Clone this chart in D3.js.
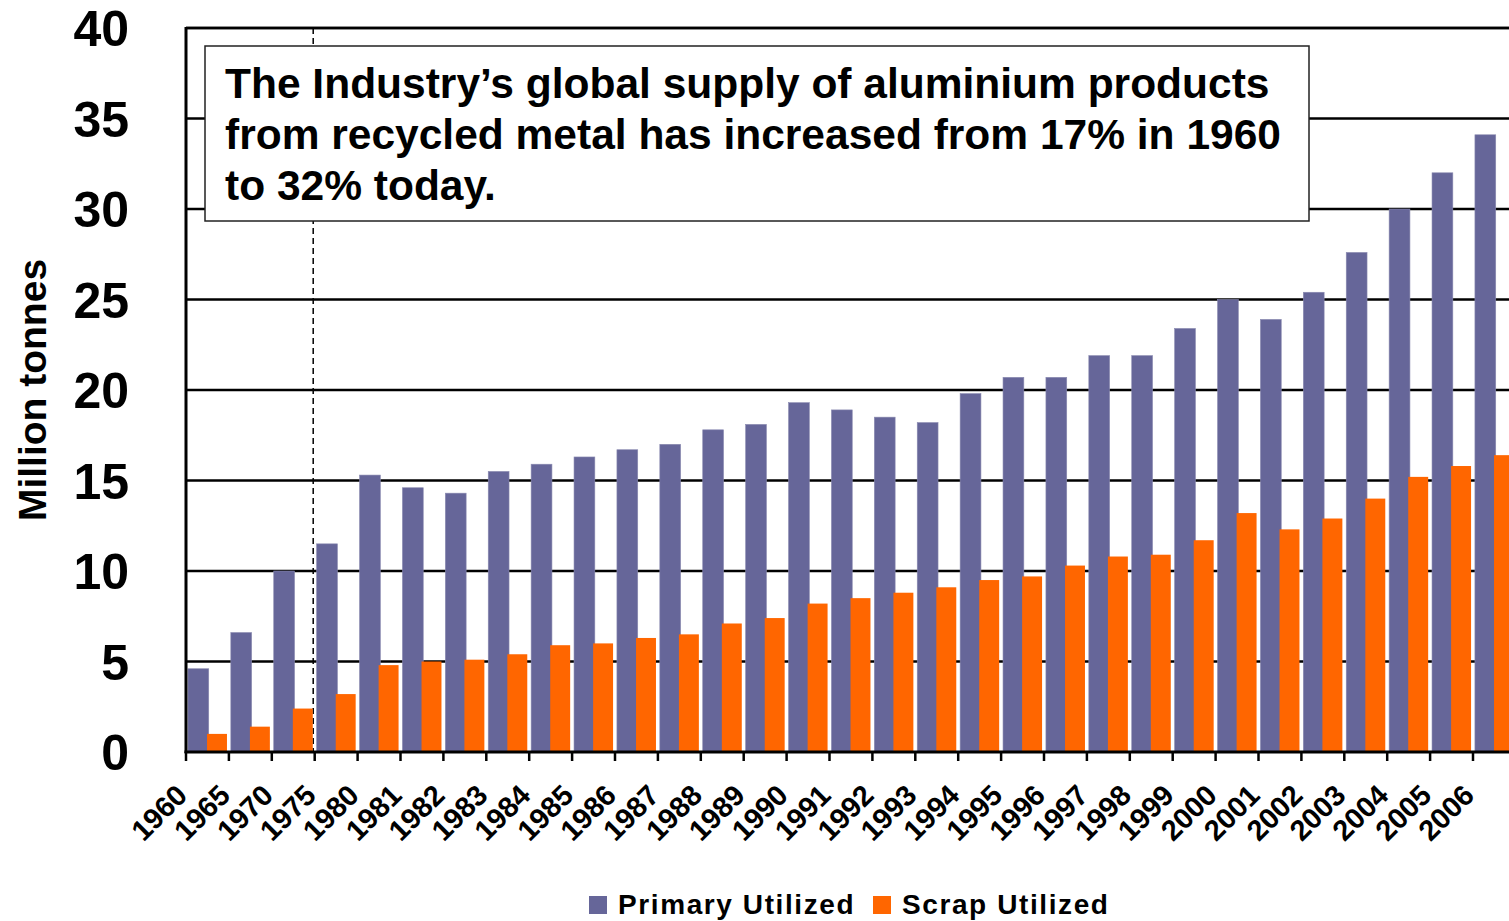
<!DOCTYPE html>
<html>
<head>
<meta charset="utf-8">
<script src="https://cdn.jsdelivr.net/npm/d3@7"></script>
<style>
  html, body { margin: 0; padding: 0; background: #fff; overflow: hidden; }
  svg { display: block; font-family: "Liberation Sans", Arial, sans-serif; }
</style>
</head>
<body>
<svg id="chart" width="1509" height="921"></svg>
<script>
const categories = ["1960","1965","1970","1975","1980","1981","1982","1983","1984","1985","1986","1987","1988","1989","1990","1991","1992","1993","1994","1995","1996","1997","1998","1999","2000","2001","2002","2003","2004","2005","2006"];
const primaryUtilized = [4.6,6.6,10.0,11.5,15.3,14.6,14.3,15.5,15.9,16.3,16.7,17.0,17.8,18.1,19.3,18.9,18.5,18.2,19.8,20.7,20.7,21.9,21.9,23.4,25.0,23.9,25.4,27.6,30.0,32.0,34.1];
const scrapUtilized = [1.0,1.4,2.4,3.2,4.8,5.0,5.1,5.4,5.9,6.0,6.3,6.5,7.1,7.4,8.2,8.5,8.8,9.1,9.5,9.7,10.3,10.8,10.9,11.7,13.2,12.3,12.9,14.0,15.2,15.8,16.4];
const yTicks = [0,5,10,15,20,25,30,35,40];
const seriesNames = ["Primary Utilized","Scrap Utilized"];
const seriesColors = ["#666699","#FF6600"];
const annotationLines = [
  "The Industry\u2019s global supply of aluminium products",
  "from recycled metal has increased from 17% in 1960",
  "to 32% today."
];
const yTitle = "Million tonnes";

(function () {
const svg = d3.select("#chart");
const plotLeft = 186, plotTop = 28, plotBottom = 752;
const bandW = 42.9;
const x = d3.scaleBand().domain(categories).range([plotLeft, plotLeft + bandW * categories.length]).padding(0);
const y = d3.scaleLinear().domain([0, 40]).range([plotBottom, plotTop]);
const w = x.bandwidth();

// gridlines
svg.append("g").selectAll("line").data(yTicks.filter(d => d > 0)).join("line")
  .attr("x1", plotLeft).attr("x2", 1509)
  .attr("y1", d => y(d)).attr("y2", d => y(d))
  .attr("stroke", "#000").attr("stroke-width", 2.5);

// dashed marker line before 1975
svg.append("line")
  .attr("x1", x("1975") - 1.5).attr("x2", x("1975") - 1.5)
  .attr("y1", plotTop).attr("y2", plotBottom)
  .attr("stroke", "#000").attr("stroke-width", 1.5)
  .attr("stroke-dasharray", "6,4");

// annotation box (covers gridlines)
const box = svg.append("g");
box.append("rect").attr("x", 205).attr("y", 46).attr("width", 1104).attr("height", 175)
  .attr("fill", "#fff").attr("stroke", "#222").attr("stroke-width", 1.5);
box.selectAll("text").data(annotationLines).join("text")
  .attr("x", 225).attr("y", (d, i) => 98 + i * 51)
  .attr("font-size", 42.5).attr("font-weight", "bold").attr("fill", "#000")
  .text(d => d);

// bars
const data = categories.map((c, i) => ({c, p: primaryUtilized[i], s: scrapUtilized[i]}));
svg.append("g").selectAll("rect").data(data).join("rect")
  .attr("x", d => x(d.c) + w * 0.045).attr("width", w * 0.485)
  .attr("y", d => y(d.p)).attr("height", d => y(0) - y(d.p))
  .attr("fill", seriesColors[0]).attr("stroke", "#8a8ab0").attr("stroke-width", 0.6);
svg.append("g").selectAll("rect").data(data).join("rect")
  .attr("x", d => x(d.c) + w * 0.49).attr("width", w * 0.465)
  .attr("y", d => y(d.s)).attr("height", d => y(0) - y(d.s))
  .attr("fill", seriesColors[1]);

// plot border top
svg.append("line").attr("x1", plotLeft).attr("x2", 1509).attr("y1", plotTop).attr("y2", plotTop)
  .attr("stroke", "#000").attr("stroke-width", 2.5);

// y axis line
svg.append("line").attr("x1", plotLeft).attr("x2", plotLeft).attr("y1", plotTop - 1).attr("y2", plotBottom + 1)
  .attr("stroke", "#000").attr("stroke-width", 3);
// x axis line
svg.append("line").attr("x1", plotLeft - 1.5).attr("x2", 1509).attr("y1", plotBottom).attr("y2", plotBottom)
  .attr("stroke", "#000").attr("stroke-width", 3);

// x ticks at category boundaries
svg.append("g").selectAll("line").data(categories).join("line")
  .attr("x1", d => x(d)).attr("x2", d => x(d))
  .attr("y1", plotBottom).attr("y2", plotBottom + 9)
  .attr("stroke", "#000").attr("stroke-width", 2.5);

// y tick labels
svg.append("g").selectAll("text").data(yTicks).join("text")
  .attr("x", 129).attr("y", d => y(d)).attr("dy", "0.36em")
  .attr("text-anchor", "end").attr("font-size", 50).attr("font-weight", "bold")
  .text(d => d);

// x tick labels
svg.append("g").selectAll("text").data(categories).join("text")
  .attr("text-anchor", "end").attr("font-size", 29).attr("font-weight", "bold")
  .attr("transform", d => `translate(${x(d) + 3},${797}) rotate(-45)`)
  .text(d => d);

// y axis title
svg.append("text")
  .attr("transform", `translate(46,390) rotate(-90)`)
  .attr("text-anchor", "middle").attr("font-size", 39).attr("font-weight", "bold")
  .text(yTitle);

// legend
const legX = [589, 873];
const leg = svg.append("g").selectAll("g").data(seriesNames).join("g")
  .attr("transform", (d, i) => `translate(${legX[i]},896)`);
leg.append("rect").attr("width", 18).attr("height", 18).attr("fill", (d, i) => seriesColors[i]);
leg.append("text").attr("x", 29).attr("y", 18)
  .attr("font-size", 28).attr("font-weight", "bold").attr("letter-spacing", 1.6)
  .text(d => d);
})();
</script>
</body>
</html>
